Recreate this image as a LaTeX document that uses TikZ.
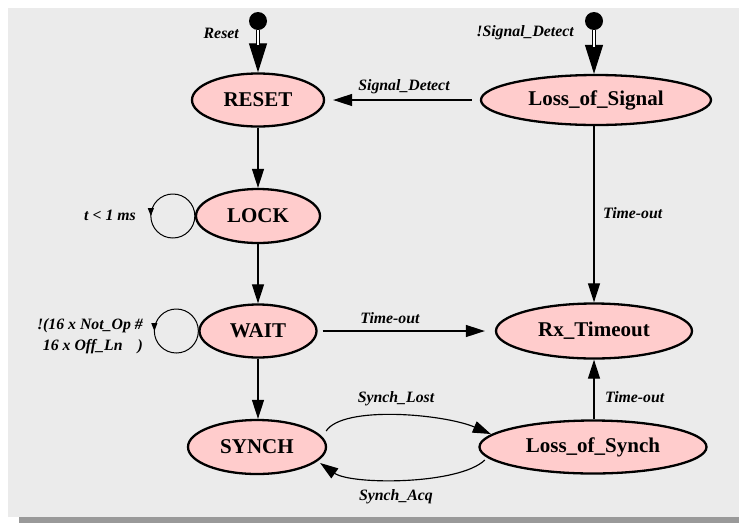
\documentclass[tikz,border=0pt]{standalone}
\usepackage{fontspec}
\setmainfont{Liberation Serif}
\usetikzlibrary{shapes.geometric,arrows.meta,calc,decorations.markings}
\definecolor{panelgray}{HTML}{EBEBEB}
\definecolor{shadowgray}{HTML}{999999}
\definecolor{statefill}{HTML}{FFCCCC}
\begin{document}
\begin{tikzpicture}[x=1pt,y=-1pt,
  state/.style={ellipse, draw=black, line width=2.3pt, fill=statefill, inner sep=0pt,
    font=\fontsize{21}{24}\selectfont\bfseries},
  lbl/.style={font=\fontsize{15.8}{20.5}\selectfont\bfseries\itshape, inner sep=0pt},
  conn/.style={line width=1.25pt, -{Triangle[length=19pt,width=12pt]}},
  curv/.style={line width=1.15pt, -{Triangle[length=18pt,width=12pt]}},
  startdot/.style={circle, fill=black, minimum size=18pt, inner sep=0pt},
  inittip/.style={line width=1.2pt, -{Triangle[length=29pt,width=18pt]}},
  initshaft/.style={line width=1.3pt, double=white, double distance=2.2pt, shorten >=27pt},
  selfloop/.style={line width=1pt, postaction={decorate},
    decoration={markings, mark=at position 0.5 with {\arrow{Triangle[length=8pt,width=6pt]}}}}
]
\useasboundingbox (0,0) rectangle (739,523);
% panel with its drop shadow
\fill[shadowgray] (19,517) rectangle (739,523);
\fill[panelgray] (8,8) rectangle (739,517);

% states
\node[state, minimum width=132pt, minimum height=53pt] (reset) at (258,100) {RESET};
\node[state, minimum width=230pt, minimum height=50pt] (los)   at (596,100) {Loss\_of\_Signal};
\node[state, minimum width=124pt, minimum height=54pt] (lock)  at (258,216) {LOCK};
\node[state, minimum width=117pt, minimum height=53pt] (wait)  at (258,331) {WAIT};
\node[state, minimum width=196pt, minimum height=55pt] (rxt)   at (594,331) {Rx\_Timeout};
\node[state, minimum width=138pt, minimum height=54pt] (synch) at (257,447) {SYNCH};
\node[state, minimum width=227pt, minimum height=53pt] (lsy)   at (593,447) {Loss\_of\_Synch};

% initial transitions
\node[startdot] (i1) at (258,21) {};
\node[startdot] (i2) at (594,21) {};
\draw[inittip] (i1) -- (reset);
\draw[initshaft] (i1) -- (reset);
\draw[inittip] (i2) -- (los.north -| i2);
\draw[initshaft] (i2) -- (los.north -| i2);
\node[lbl, anchor=east] at (239,33) {Reset};
\node[lbl, anchor=east] at (574,33) {!Signal\_Detect};

% main transitions
\draw[conn, shorten <=8pt, shorten >=8pt] (los) -- (reset);
\node[lbl] at (404,87) {Signal\_Detect};

\draw[conn] (reset) -- (lock);
\draw[conn] (lock) -- (wait);
\draw[conn] (wait) -- (synch.north -| wait);

\draw[conn] (los.south -| rxt) -- (rxt);
\node[lbl, anchor=west] at (603,213) {Time-out};

\draw[conn, shorten <=5pt, shorten >=10pt] (wait) -- (rxt);
\node[lbl] at (390,318) {Time-out};

\draw[conn] (lsy.north -| rxt) -- (rxt);
\node[lbl, anchor=west] at (605,397) {Time-out};

% synchronisation lost / acquired
\coordinate (slA) at ($(synch.east)+(-1,-16)$);
\coordinate (slB) at ($(lsy.west)+(12.5,-13)$);
\draw[curv] (slA) .. controls +(17,-26) and +(-47,-20) .. (slB);
\node[lbl] at (396,399) {Synch\_Lost};

\coordinate (saA) at ($(lsy.west)+(6.5,13)$);
\coordinate (saB) at ($(synch.east)+(-7,16)$);
\draw[curv] (saA) .. controls +(-26,25) and +(31,22) .. (saB);
\node[lbl] at (396,497) {Synch\_Acq};

% self loops
\draw[selfloop] (lock.west) arc[start angle=0, end angle=-360, radius=22];
\node[lbl, anchor=east] at (136,215) {t < 1 ms};
\draw[selfloop] (wait.west) arc[start angle=0, end angle=-360, radius=22];
\node[lbl, anchor=east, align=right] at (143,336) {!(16 x Not\_Op \#\\16 x Off\_Ln\hspace{15pt})};
\end{tikzpicture}
\end{document}
